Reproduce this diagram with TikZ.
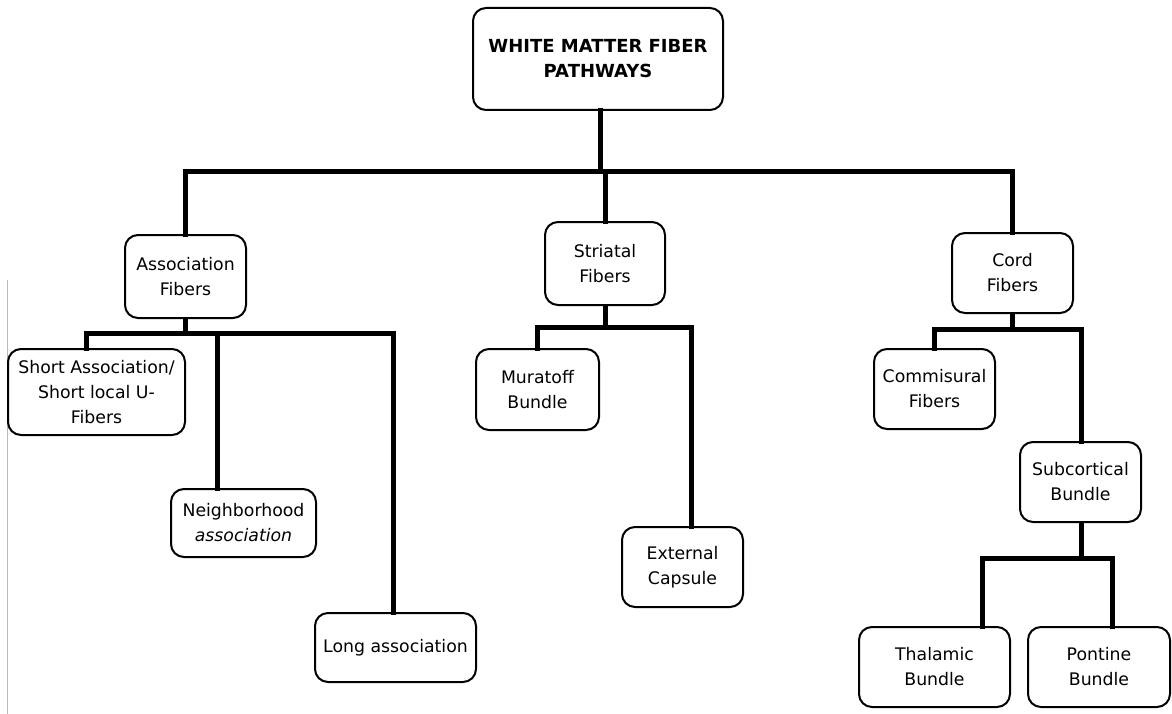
\documentclass[tikz,border=0pt]{standalone}
\usepackage{fontspec}
\setmainfont{DejaVu Sans}
\begin{document}
\begin{tikzpicture}[x=1pt,y=1pt,
  box/.style={draw=black, line width=2pt, rounded corners=13pt, align=center,
    inner sep=0pt, font=\fontsize{17.3}{25}\selectfont, fill=white},
  conn/.style={draw=black, line width=5pt, line cap=rect, line join=miter}]
\useasboundingbox (0,0) rectangle (1172,-714);
\fill[white] (0,0) rectangle (1172,-714);
\draw[gray!55, line width=0.7pt] (7,-280) -- (7,-714);

% nodes
\node[box, minimum width=250pt, minimum height=102pt, font=\bfseries\fontsize{18}{25}\selectfont]
  (root) at (598,-59) {WHITE MATTER FIBER\\PATHWAYS};
\node[box, minimum width=121pt, minimum height=83pt] (assoc) at (185.5,-276.5) {Association\\Fibers};
\node[box, minimum width=120pt, minimum height=83pt] (stri) at (605,-263.5) {Striatal\\Fibers};
\node[box, minimum width=121pt, minimum height=80pt] (cord) at (1012.5,-273) {Cord\\Fibers};

\node[box, minimum width=177pt, minimum height=86pt] (short) at (96.5,-392) {Short Association/\\Short local U-\\Fibers};
\node[box, minimum width=145pt, minimum height=68pt] (nbh) at (243.5,-523) {Neighborhood\\\itshape association};
\node[box, minimum width=161pt, minimum height=69pt] (long) at (395.5,-647.5) {Long association};

\node[box, minimum width=123pt, minimum height=81pt] (mura) at (537.5,-389.5) {Muratoff\\Bundle};
\node[box, minimum width=121pt, minimum height=80pt] (ext) at (682.5,-567) {External\\Capsule};

\node[box, minimum width=121pt, minimum height=80pt] (comm) at (934.5,-389) {Commisural\\Fibers};
\node[box, minimum width=121pt, minimum height=80pt] (sub) at (1080.5,-482) {Subcortical\\Bundle};
\node[box, minimum width=151pt, minimum height=80pt] (thal) at (934.5,-667) {Thalamic\\Bundle};
\node[box, minimum width=142pt, minimum height=80pt] (pont) at (1099,-667) {Pontine\\Bundle};

% junction coordinates
\coordinate (rj) at (600,-172);
\coordinate (aj) at (185.5,-333);
\coordinate (sj) at (605,-327);
\coordinate (cj) at (1012.5,-329);
\coordinate (bj) at (1081.5,-558);

% top level
\draw[conn] ([xshift=2pt]root.south) -- (rj);
\draw[conn] (assoc.north) |- (rj) -| (cord.north);
\draw[conn] (rj) -| (stri.north);
% association
\draw[conn] (assoc.south) -- (aj);
\draw[conn] ([xshift=-10.5pt]short.north) |- (aj) -| ([xshift=-2.5pt]long.north);
\draw[conn] ([xshift=-26.5pt]nbh.north) -- ([xshift=-26.5pt]nbh.north |- aj);
% striatal
\draw[conn] (stri.south) -- (sj);
\draw[conn] (mura.north) |- (sj) -| ([xshift=8.5pt]ext.north);
% cord
\draw[conn] (cord.south) -- (cj);
\draw[conn] (comm.north) |- (cj) -| ([xshift=0.5pt]sub.north);
% subcortical
\draw[conn] ([xshift=1pt]sub.south) -- (bj);
\draw[conn] ([xshift=47.5pt]thal.north) |- (bj) -| ([xshift=13pt]pont.north);
\end{tikzpicture}
\end{document}
